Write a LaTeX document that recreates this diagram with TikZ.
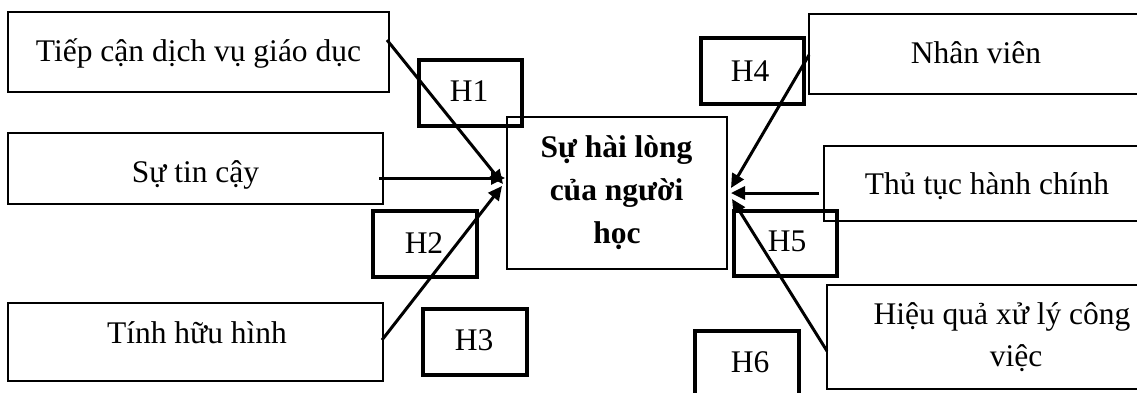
\documentclass[tikz,border=0pt]{standalone}
\usepackage{fontspec}
\setmainfont{Liberation Serif}
\usetikzlibrary{fit,arrows.meta}
\begin{document}
\begin{tikzpicture}[x=1pt,y=-1pt,
  bigbox/.style={draw, line width=1.5pt, inner sep=0pt, outer sep=0pt},
  hbox/.style={draw, line width=3.2pt, inner sep=0pt, outer sep=0pt},
  txt/.style={font=\fontsize{31.5}{38}\selectfont, inner sep=0pt, anchor=base},
  btxt/.style={inner sep=0pt, anchor=base, font=\fontsize{31.5}{38}\selectfont\bfseries},
  conn/.style={line width=3pt, -{Triangle[length=14pt,width=13pt]}}]
\useasboundingbox (0,0) rectangle (1137,392);
\clip (0,0) rectangle (1137,392);
\fill[white] (0,0) rectangle (1137,392);

% factor boxes (left)
\node[bigbox, fit={(8,12) (389,92)}] (b1) {};
\node[bigbox, fit={(8,133) (383,204)}] (b2) {};
\node[bigbox, fit={(8,303) (383,381)}] (b3) {};
% factor boxes (right, cut off by the page edge)
\node[bigbox, fit={(809,14) (1160,94)}] (b4) {};
\node[bigbox, fit={(824,146) (1160,221)}] (b5) {};
\node[bigbox, fit={(827,285) (1180,389)}] (b6) {};
% central box
\node[bigbox, fit={(507,117) (727,269)}] (c) {};
% hypothesis boxes
\node[hbox, fit={(419,60) (522,126)}] (h1) {};
\node[hbox, fit={(373,211) (477,277)}] (h2) {};
\node[hbox, fit={(423,309) (527,375)}] (h3) {};
\node[hbox, fit={(701,38) (804,104)}] (h4) {};
\node[hbox, fit={(734,211) (837,276)}] (h5) {};
\node[hbox, fit={(695,331) (799,420)}] (h6) {};

% texts
\node[txt] (t1) at (198.5,61) {Tiếp cận dịch vụ giáo dục};
\node[txt] (t2) at (195.5,182) {Sự tin cậy};
\node[txt] (t3) at (197,343) {Tính hữu hình};
\node[txt] (t4) at (976,63) {Nhân viên};
\node[txt] (t5) at (987,194) {Thủ tục hành chính};
\node[txt] (t6a) at (1002,324) {Hiệu quả xử lý công};
\node[txt] (t6b) at (1016,366) {việc};
\node[btxt] (ct1) at (616.5,157) {Sự hài lòng};
\node[btxt] (ct2) at (616.5,200) {của người};
\node[btxt] (ct3) at (617,243) {học};
\node[txt] (l1) at (469,101) {H1};
\node[txt] (l2) at (424,253) {H2};
\node[txt] (l3) at (474,350) {H3};
\node[txt] (l4) at (750,81) {H4};
\node[txt] (l5) at (787,251) {H5};
\node[txt] (l6) at (750,372) {H6};

% arrow tips near the central box
\coordinate (e1) at (503,184);
\coordinate (e2) at (505,178);
\coordinate (e3) at (502,186);
\coordinate (e4) at (731,188);
\coordinate (e5) at (731,193);
\coordinate (e6) at (732,199);

\draw[conn] ([xshift=-2pt,yshift=12pt]b1.east) -- (e1);
\draw[conn] ([xshift=-4pt,yshift=-9.5pt]b2.east) -- (e2);
\draw[conn] ([xshift=-1pt,yshift=2pt]b3.east) -- (e3);
\draw[conn] ([yshift=-1pt]b4.west) -- (e4);
\draw[conn] ([xshift=-5pt,yshift=-9.5pt]b5.west) -- (e5);
\draw[conn] ([yshift=-14pt]b6.west) -- (e6);
\end{tikzpicture}
\end{document}
